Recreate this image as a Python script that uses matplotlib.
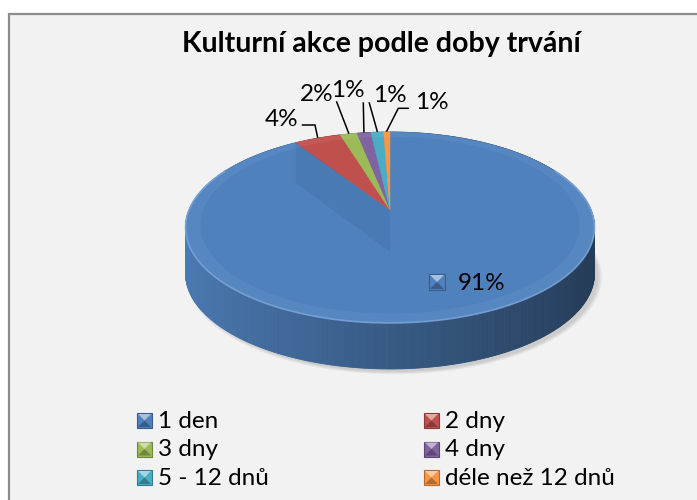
import numpy as np
import matplotlib.pyplot as plt
from matplotlib.patches import Polygon, Rectangle
from matplotlib.colors import to_rgb

# data
categories = ['1 den', '2 dny', '3 dny', '4 dny', '5 - 12 dnů', 'déle než 12 dnů']
shares = [90.9, 4.4, 1.6, 1.3, 1.2, 0.6]
colors = ['#4F81BD', '#C0504D', '#9BBB59', '#8064A2', '#4BACC6', '#F79646']
title = 'Kulturní akce podle doby trvání'

plt.rcParams['font.family'] = ['Lato', 'DejaVu Sans']

W, H = 697, 500
fig = plt.figure(figsize=(W / 100, H / 100), dpi=100)
ax = fig.add_axes([0, 0, 1, 1])
ax.set_xlim(0, W)
ax.set_ylim(H, 0)
ax.axis('off')

# chart area
ax.add_patch(Rectangle((9, 14), W, H, facecolor='#f2f2f2', edgecolor='#8c8c8c', lw=1.6))

# pie geometry (simple perspective of a tilted disc)
cx, cy = 390, 210
R, B, k = 201, 92.3, 0.183
depth = 46


def pt(theta, r=1.0, dz=0.0):
    u = r * np.sin(theta)
    v = -r * np.cos(theta)
    den = 1 - k * v
    return cx + R * u / den, cy + B * v / den + dz


frac = np.array(shares) / sum(shares)
ends = np.cumsum(frac) * 2 * np.pi
starts = ends - frac * 2 * np.pi


def slice_of(theta):
    return int(np.searchsorted(ends, theta % (2 * np.pi)))


# soft shadow
th = np.linspace(0, 2 * np.pi, 200)
for i, a in enumerate([0.05, 0.05, 0.06]):
    xs, ys = pt(th, 1.0 + 0.008 * (2 - i), depth + 3)
    ax.add_patch(Polygon(np.c_[xs + 4, ys], closed=True, fc='black', ec='none', alpha=a))

# side wall
ts = np.linspace(0, 2 * np.pi, 721)
for t0, t1 in zip(ts[:-1], ts[1:]):
    tm = (t0 + t1) / 2
    base = np.array(to_rgb(colors[slice_of(tm)]))
    f = 0.70 - 0.25 * np.sin(tm)
    c = np.clip(base * f, 0, 1)
    x0, y0 = pt(t0)
    x1, y1 = pt(t1)
    poly = [(x0, y0), (x1, y1), (x1, y1 + depth), (x0, y0 + depth)]
    ax.add_patch(Polygon(poly, closed=True, fc=c, ec=c, lw=0.6))

# top face
for s, e, c in zip(starts, ends, colors):
    tt = np.linspace(s, e, max(int((e - s) * 80), 3))
    xs, ys = pt(tt)
    poly = [(cx, cy)] + list(zip(xs, ys))
    ax.add_patch(Polygon(poly, closed=True, fc=c, ec=c, lw=0.3))

# bevel ring + rim highlight
xo, yo = pt(th)
xi, yi = pt(th[::-1], 0.93)
ax.add_patch(Polygon(np.c_[np.r_[xo, xi], np.r_[yo, yi]], closed=True, fc='white', ec='none', alpha=0.05))
tf = np.linspace(np.pi * 0.35, np.pi * 1.65, 150)
xf, yf = pt(tf)
ax.plot(xf, yf, color='#7ea8dc', lw=1.2, alpha=0.8)

# inner cut face of the big slice seen through
xa, ya = pt(ends[0])
ax.add_patch(Polygon([(xa, ya), (xa, ya + 40), (cx, cy + 42), (cx, cy)],
                     closed=True, fc='#2b4f7e', ec='none', alpha=0.13))


def draw_key(x, yc, s, c):
    base = np.array(to_rgb(c))
    light = base + (1 - base) * 0.5
    dark = base * 0.72
    top = yc - s / 2
    ax.add_patch(Rectangle((x, top), s, s, fc=base, ec=dark, lw=0.8))
    ax.add_patch(Polygon([(x + 1, top + 1), (x + s - 1, top + 1), (x + s / 2, yc)],
                         closed=True, fc=light, ec='none'))
    ax.add_patch(Polygon([(x + 1, top + s - 1), (x + s - 1, top + s - 1), (x + s / 2, yc)],
                         closed=True, fc=dark, ec='none'))


# data labels
labels = ['{:.0f}%'.format(v) for v in shares]
label_xy = [(481.5, 290), (281.5, 126), (317, 101), (348, 97), (390, 102), (432, 109)]
leader_from = [None, [(302.5, 125), (315, 125)], [(336.7, 102)], [(363.3, 103)],
               [(369.3, 103)], [(408.3, 108.3), (398.3, 108.3)]]
fs = 17.5
for i, (lab, (lx, ly)) in enumerate(zip(labels, label_xy)):
    ax.text(lx, ly, lab, ha='center', va='baseline', fontsize=fs, color='black')
    if leader_from[i] is not None:
        ex, ey = pt((starts[i] + ends[i]) / 2)
        pts = leader_from[i] + [(ex, ey - 1)]
        ax.plot([p[0] for p in pts], [p[1] for p in pts], color='black', lw=1.1)
draw_key(429, 282, 16, colors[0])

# title
ax.text(381, 52, title, ha='center', va='baseline', fontsize=20.5, fontweight='bold', color='black')

# legend, 2 columns
key_x = [137, 424]
row_y = [428, 456.5, 485]
for i, (cat, c) in enumerate(zip(categories, colors)):
    col, row = i % 2, i // 2
    draw_key(key_x[col], row_y[row] - 7.5, 15, c)
    ax.text(key_x[col] + 21, row_y[row], cat, ha='left', va='baseline', fontsize=fs, color='black')

fig.savefig('out.png', dpi=100, facecolor='white')
